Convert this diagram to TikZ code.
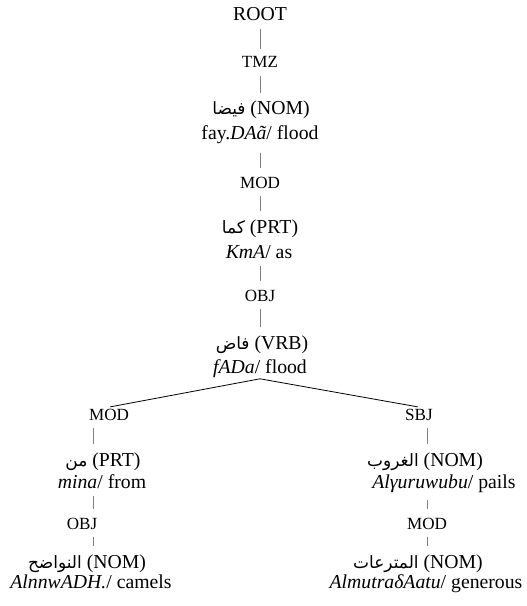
\documentclass[tikz,border=0pt]{standalone}
\usepackage{fontspec}
\setmainfont{Liberation Serif}
\newfontfamily\arabicfont[Script=Arabic,Scale=0.86]{DejaVu Sans}
\TeXXeTstate=1
\newcommand{\arword}[1]{{\arabicfont\beginR #1\endR}}

\begin{document}
\begin{tikzpicture}[x=0.75pt, y=-0.75pt]

    % Define styles
    \tikzset{
        rel/.style={anchor=base, inner sep=1pt, font=\fontsize{12.8}{15}\selectfont},
        word/.style={anchor=base, inner sep=1pt, font=\fontsize{14.8}{17}\selectfont},
        gloss/.style={anchor=base, inner sep=1pt, font=\fontsize{14.8}{17}\selectfont},
        stem/.style={gray, line width=0.6pt, shorten >=5pt, shorten <=5pt},
        branch/.style={black, line width=0.6pt, shorten >=1pt}
    }

    \useasboundingbox (0,0) rectangle (527,606);

    % 1. Spines for the vertical links
    \coordinate (spineT) at (260,0);
    \coordinate (spineL) at (93,0);
    \coordinate (spineR) at (427,0);

    % 2. Main chain
    \node[word] (root) at (260,21) {ROOT};
    \node[rel] (tmz) at (260,68) {TMZ};
    \node[word] (fayda) at (261,115) {\arword{فيضا} (NOM)};
    \node[gloss] (faydaGl) at (260,140) {fay.\textit{DAã}/ flood};
    \node[rel] (modT) at (260,188) {MOD};
    \node[word] (kama) at (260,233) {\arword{كما} (PRT)};
    \node[gloss] (kamaGl) at (259,258) {\textit{KmA}/ as};
    \node[rel] (objT) at (260,301) {OBJ};
    \node[word] (fada) at (262,349) {\arword{فاض} (VRB)};
    \node[gloss] (fadaGl) at (260,373) {\textit{fADa}/ flood};

    \draw[stem] (root.south -| spineT) -- (tmz.north -| spineT);
    \draw[stem] (tmz.south -| spineT) -- (fayda.north -| spineT);
    \draw[stem] (faydaGl.south -| spineT) -- (modT.north -| spineT);
    \draw[stem] (modT.south -| spineT) -- (kama.north -| spineT);
    \draw[stem] (kamaGl.south -| spineT) -- (objT.north -| spineT);
    \draw[stem] (objT.south -| spineT) -- (fada.north -| spineT);

    % 3. Left branch
    \node[rel] (modL) at (109,420) {MOD};
    \node[word] (min) at (103,466) {\arword{من} (PRT)};
    \node[gloss] (minGl) at (102,488) {\textit{mina}/ from};
    \node[rel] (objL) at (82,529) {OBJ};
    \node[word] (nawadih) at (87,568) {\arword{النواضح} (NOM)};
    \node[gloss] (nawadihGl) at (91,588) {\textit{AlnnwADH.}/ camels};

    \draw[stem] (modL.south -| spineL) -- (min.north -| spineL);
    \draw[stem] (minGl.south -| spineL) -- (objL.north -| spineL);
    \draw[stem] (objL.south -| spineL) -- (nawadih.north -| spineL);

    % 4. Right branch
    \node[rel] (sbj) at (419,420) {SBJ};
    \node[word] (ghurub) at (425,466) {\arword{الغروب} (NOM)};
    \node[gloss] (ghurubGl) at (444,488) {\textit{Alγuruwubu}/ pails};
    \node[rel] (modR) at (427,529) {MOD};
    \node[word] (mutraat) at (418,568) {\arword{المترعات} (NOM)};
    \node[gloss] (mutraatGl) at (426,588) {\textit{AlmutraδAatu}/ generous};

    \draw[stem] (sbj.south -| spineR) -- (ghurub.north -| spineR);
    \draw[stem] (ghurubGl.south -| spineR) -- (modR.north -| spineR);
    \draw[stem] (modR.south -| spineR) -- (mutraat.north -| spineR);

    % 5. Fork under the verb
    \draw[branch] (fadaGl.south) -- (modL.north);
    \draw[branch] (fadaGl.south) -- (sbj.north);

\end{tikzpicture}
\end{document}
